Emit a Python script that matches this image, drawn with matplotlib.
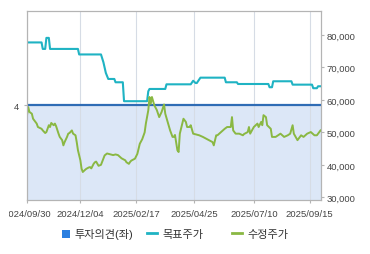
import matplotlib.pyplot as plt
from matplotlib.patches import Patch
from matplotlib.lines import Line2D
from matplotlib.transforms import Bbox, TransformedBbox

plt.rcParams['font.family'] = ['Liberation Sans', 'Noto Sans CJK KR']

# x축: 거래일 인덱스 (2024/09/30 = 0)
tick_idx = [0, 44, 90, 138, 187, 233]
tick_labels = ['2024/09/30', '2024/12/04', '2025/02/17', '2025/04/25', '2025/07/10', '2025/09/15']
x_end = 242.4

# 투자의견 (좌축)
opinion_idx = [0, 242.4]
opinion_val = [4, 4]

# 목표주가
target_idx = [0, 12, 13, 15, 16, 18, 19, 42, 43, 61, 63, 65, 67, 72, 73, 79, 80, 99, 100, 101,
              114, 115, 135, 137, 139, 140, 143, 163, 164, 173, 174, 199, 200, 202, 203, 218,
              219, 235, 236, 239, 240, 242]
target_val = [77700, 77700, 75700, 75700, 79100, 79100, 75700, 75700, 74000, 74000, 71600, 68300,
              66450, 66450, 65430, 65430, 59600, 59600, 62660, 63370, 63370, 64800, 64800, 65900,
              65200, 65200, 66850, 66850, 65430, 65430, 64900, 64900, 63900, 63900, 65740, 65740,
              64700, 64700, 63600, 63600, 64200, 64200]

# 수정주가
price_idx = [0, 1, 2, 4, 5, 7, 8, 9, 12, 13, 15, 16, 18, 19, 20, 22, 23, 24, 26, 27, 29, 30, 31,
             33, 34, 35, 37, 38, 40, 41, 42, 44, 45, 46, 48, 49, 51, 52, 53, 55, 56, 57, 59, 61,
             64, 66, 68, 71, 73, 75, 78, 81, 82, 84, 85, 86, 89, 91, 93, 95, 97, 98, 100, 101,
             102, 103, 105, 107, 108, 109, 111, 113, 114, 116, 118, 119, 120, 121, 122, 124, 125,
             126, 128, 129, 131, 132, 134, 135, 137, 139, 142, 145, 148, 150, 153, 154, 156, 157,
             160, 163, 165, 168, 169, 170, 172, 175, 178, 179, 182, 183, 184, 187, 190, 191, 193,
             194, 195, 197, 198, 201, 202, 205, 207, 209, 212, 215, 217, 219, 220, 223, 226, 228,
             231, 234, 237, 239, 242]
price_val = [55300, 57800, 56300, 55750, 54200, 53200, 52700, 51650, 51100, 50600, 49800, 50100,
             52200, 51650, 52900, 52200, 52700, 51900, 49600, 48600, 47600, 46000, 47000, 48600,
             49600, 49800, 50600, 49600, 49100, 47000, 44500, 41400, 38800, 37800, 38500, 38800,
             39200, 39300, 38900, 40350, 40800, 41000, 39700, 40000, 42900, 43500, 43300, 43000,
             43200, 43000, 42000, 41400, 40800, 40300, 40900, 41300, 41900, 43400, 46500, 47900,
             50000, 52700, 56800, 60900, 58800, 60900, 58300, 56900, 55750, 54700, 56300, 58600,
             55750, 53200, 50600, 49600, 48600, 48600, 49200, 44500, 43950, 49600, 52700, 54200,
             53200, 51650, 51650, 52200, 49600, 49400, 49100, 48600, 48000, 47600, 47000, 46000,
             49100, 49100, 50100, 51100, 51650, 51650, 54700, 50600, 49600, 49600, 49100, 49500,
             50100, 51650, 49600, 51650, 52700, 51650, 53200, 52200, 55300, 54700, 52200, 51100,
             48600, 48600, 49100, 49600, 48600, 49100, 49600, 52200, 49600, 47600, 49100, 48600,
             49600, 50100, 49100, 49100, 50600]

price_ticks = [30000, 40000, 50000, 60000, 70000, 80000]

c_teal = '#1fb3c3'
c_green = '#8ab843'
c_blue = '#2f6cb5'
c_fill = '#dce7f7'
c_grid = '#d6dce5'
c_spine = '#b4b4b4'
c_text = '#444444'

fig = plt.figure(figsize=(3.7, 2.55), dpi=100)
ax = fig.add_axes([27 / 370, 54 / 255, 294 / 370, 188.7 / 255])
ax2 = ax.twinx()

ax.fill_between(opinion_idx, 0, opinion_val, color=c_fill, lw=0)
ax.plot(opinion_idx, opinion_val, color=c_blue, lw=1.6, solid_capstyle='butt')
ax.set_ylim(0, 7.95)
ax.set_xlim(0, x_end)
ax.set_yticks([4])
ax.set_yticklabels(['4'])
ax.set_xticks(tick_idx)
ax.set_xticklabels(tick_labels)
ax.grid(axis='x', color=c_grid, lw=0.8)
ax.tick_params(axis='both', colors=c_spine, labelcolor=c_text, labelsize=6.8, length=2.2, width=0.8)
ax.tick_params(axis='x', pad=4.4)
ax.tick_params(axis='y', pad=3.4)

ax2.plot(target_idx, target_val, color=c_teal, lw=1.5)
ax2.plot(price_idx, price_val, color=c_green, lw=1.4)
ax2.set_ylim(29170, 87290)
ax2.set_xlim(0, x_end)
ax2.set_yticks(price_ticks)
ax2.set_yticklabels([f'{v:,}' for v in price_ticks])
ax2.tick_params(axis='y', colors=c_spine, labelcolor=c_text, labelsize=6.8, length=2.2, width=0.8, pad=2)

for a in (ax, ax2):
    for s in a.spines.values():
        s.set_color(c_spine)
        s.set_linewidth(0.8)

# 첫 번째 날짜 라벨은 왼쪽이 잘려 보임
clip = TransformedBbox(Bbox([[8.5 / 370, 0], [1, 1]]), fig.transFigure)
first = ax.xaxis.get_major_ticks()[0].label1
first.set_clip_box(clip)
first.set_clip_on(True)

# 범례 (항목별 고정 간격)
leg_y = 1 - 235 / 255
items = [
    (Patch(facecolor='#2b7fe0', edgecolor='none'), '투자의견(좌)', 62, 0.7),
    (Line2D([], [], color=c_teal, lw=2), '목표주가', 147, 0.9),
    (Line2D([], [], color=c_green, lw=2), '수정주가', 232, 0.9),
]
for h, lab, x0, hl in items:
    fig.legend([h], [lab], loc='center left', bbox_to_anchor=(x0 / 370, leg_y),
               frameon=False, fontsize=8, handlelength=hl, handleheight=0.7,
               handletextpad=0.45, borderpad=0, borderaxespad=0, labelcolor='#333333')

fig.savefig('out.png', dpi=100)
